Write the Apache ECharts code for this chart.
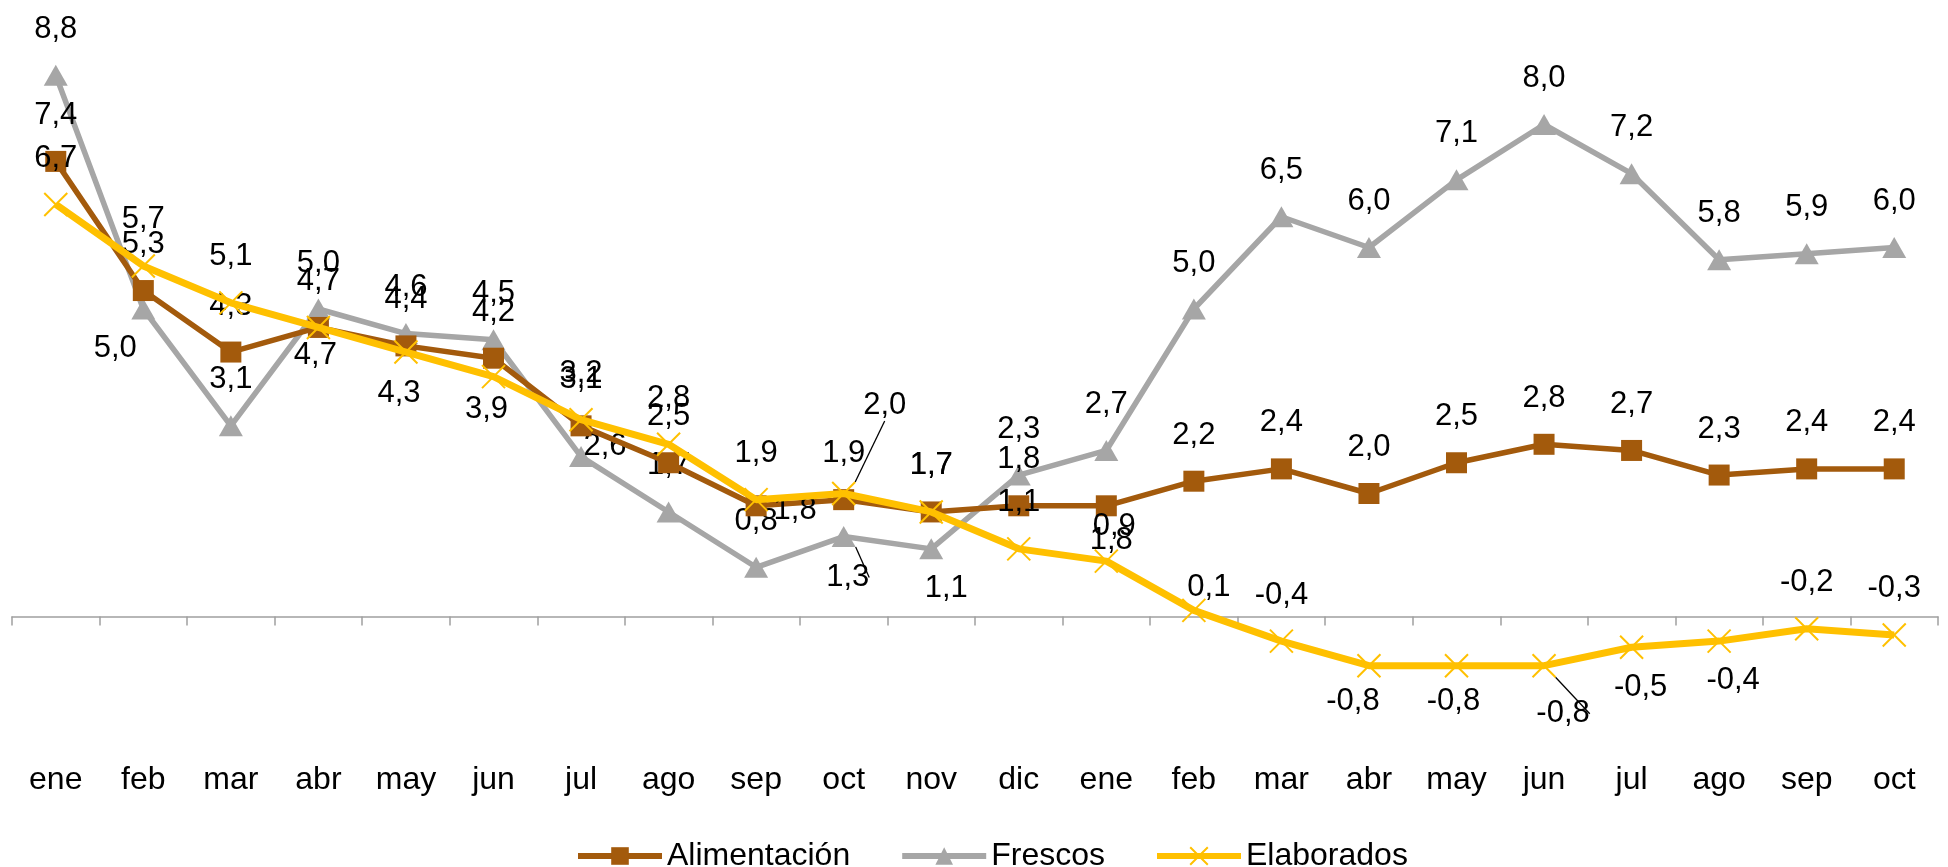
<!DOCTYPE html>
<html>
<head>
<meta charset="utf-8">
<script src="https://cdn.jsdelivr.net/npm/echarts@6/dist/echarts.min.js"></script>
<style>
html,body{margin:0;padding:0;background:#fff;}
#chart{width:1948px;height:867px;}
</style>
</head>
<body>
<div id="chart"></div>
<script>
// ---- data ----
const categories = ['ene','feb','mar','abr','may','jun','jul','ago','sep','oct','nov','dic','ene','feb','mar','abr','may','jun','jul','ago','sep','oct'];
const alimentacion = [7.4,5.3,4.3,4.7,4.4,4.2,3.1,2.5,1.8,1.9,1.7,1.8,1.8,2.2,2.4,2.0,2.5,2.8,2.7,2.3,2.4,2.4];
const frescos = [8.8,5.0,3.1,5.0,4.6,4.5,2.6,1.7,0.8,1.3,1.1,2.3,2.7,5.0,6.5,6.0,7.1,8.0,7.2,5.8,5.9,6.0];
const elaborados = [6.7,5.7,5.1,4.7,4.3,3.9,3.2,2.8,1.9,2.0,1.7,1.1,0.9,0.1,-0.4,-0.8,-0.8,-0.8,-0.5,-0.4,-0.2,-0.3];
const seriesNames = ['Alimentación','Frescos','Elaborados'];

// ---- label placement (offsets from point, px) ----
const defaultShift = [0,-46];
const alimLabelShift = {8:[39,5], 12:[5,35]};
const frescosLabelShift = {1:[-28,39], 6:[24,-10], 9:[4,41], 10:[15,40]};
const elabLabelShift = {3:[-3,28], 4:[-7,41], 5:[-7,33], 9:[41,-88], 12:[8,-35], 13:[15,-23], 15:[-16,36], 16:[-3,36], 17:[19,48], 18:[9,40], 19:[14,39]};
const frescosLeaders = [9];
const elabLeaders = [9,17];

const FONT = 'Liberation Sans, Arial, sans-serif';
const fmt = v => v.toFixed(1).replace('.', ',');

function buildData(values, shifts, leaders) {
  return values.map((v, i) => {
    const item = {value: v, label: {offset: shifts[i] || defaultShift}};
    if (leaders.indexOf(i) >= 0) {
      item.labelLine = {show: true, lineStyle: {color: '#000', width: 1.3}};
    }
    return item;
  });
}

const labelBase = {
  show: true,
  position: 'inside',
  color: '#000',
  fontFamily: FONT,
  fontSize: 31,
  formatter: p => fmt(p.value)
};

const BROWN = '#A35A0C', GRAY = '#A6A6A6', YELLOW = '#FFC000';

const chart = echarts.init(document.getElementById('chart'), null, {renderer: 'canvas'});
chart.setOption({
  animation: false,
  backgroundColor: '#fff',
  grid: {left: 12, right: 10, top: 1.5, height: 738, containLabel: false, outerBoundsMode: 'none'},
  legend: {
    data: seriesNames,
    left: 570,
    top: 835,
    itemWidth: 84,
    itemHeight: 22,
    itemGap: 49,
    lineStyle: {width: 6},
    textStyle: {fontFamily: FONT, fontSize: 32, color: '#000'}
  },
  xAxis: {
    type: 'category',
    data: categories,
    boundaryGap: true,
    axisLine: {onZero: true, lineStyle: {color: '#A0A0A0', width: 1.5}},
    axisTick: {show: true, length: 9, alignWithLabel: false, lineStyle: {color: '#A0A0A0', width: 1.5}},
    axisLabel: {margin: 25, color: '#000', fontFamily: FONT, fontSize: 32, interval: 0},
    splitLine: {show: false}
  },
  yAxis: {
    type: 'value',
    min: -2,
    max: 10,
    interval: 2,
    axisLine: {show: false},
    axisTick: {show: false},
    axisLabel: {show: false},
    splitLine: {show: false}
  },
  series: [
    {
      name: seriesNames[0],
      type: 'line',
      data: buildData(alimentacion, alimLabelShift, []),
      symbol: 'rect',
      symbolSize: 21,
      lineStyle: {color: BROWN, width: 5.5},
      itemStyle: {color: BROWN},
      label: labelBase,
      z: 3
    },
    {
      name: seriesNames[1],
      type: 'line',
      data: buildData(frescos, frescosLabelShift, frescosLeaders),
      symbol: 'triangle',
      symbolSize: [24, 21],
      lineStyle: {color: GRAY, width: 5.5},
      itemStyle: {color: GRAY},
      label: labelBase,
      z: 2
    },
    {
      name: seriesNames[2],
      type: 'line',
      data: buildData(elaborados, elabLabelShift, elabLeaders),
      symbol: 'path://M0,0L10,10M10,0L0,10',
      symbolSize: 23,
      lineStyle: {color: YELLOW, width: 7},
      itemStyle: {color: YELLOW, borderColor: YELLOW, borderWidth: 2},
      label: labelBase,
      z: 4
    }
  ]
});
</script>
</body>
</html>
